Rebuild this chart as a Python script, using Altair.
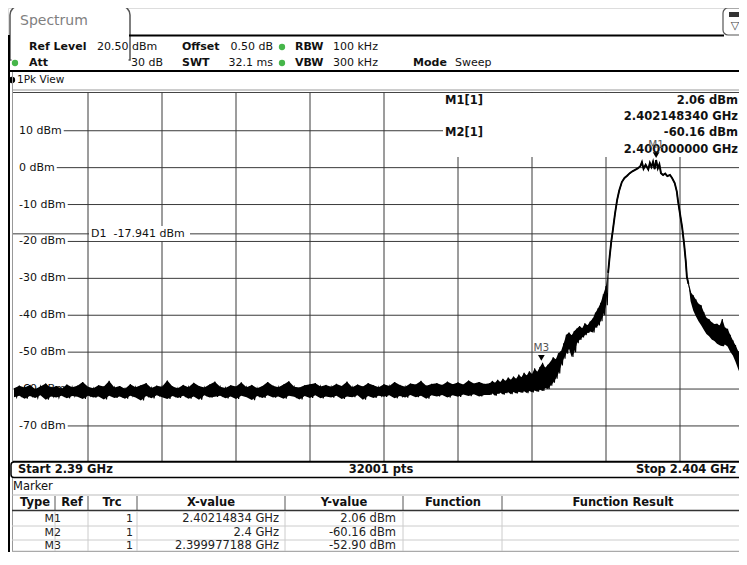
import altair as alt
import pandas as pd

# ---------------- chart values ----------------
F_START, F_STOP = 2390.0, 2404.0        # MHz (2.39 GHz .. 2.404 GHz)
LVL_TOP, LVL_BOTTOM = 20.5, -79.5       # dBm (ref level 20.5, 10 dB/div)

grid_levels = [10, 0, -10, -20, -30, -40, -50, -60, -70]
grid_freqs = [2391.4, 2392.8, 2394.2, 2395.6, 2397.0, 2398.4, 2399.8, 2401.2, 2402.6]
display_line = -17.941

# noise floor 2390.0 .. 2398.9 MHz, every 0.1 MHz: max / min of the trace
noise_upper = [-59.8, -59.1, -59.6, -58.9, -60.0, -59.3, -58.5, -59.7, -59.2, -59.9,
               -58.8, -59.5, -59.1, -58.1, -59.4, -59.8, -59.0, -59.3, -57.8, -59.6,
               -59.2, -59.9, -58.7, -59.5, -59.0, -58.4, -59.7, -59.1, -59.4, -57.7,
               -59.3, -59.8, -58.9, -59.5, -58.3, -59.2, -59.6, -58.8, -58.0, -59.4,
               -59.7, -59.0, -59.3, -58.2, -59.5, -58.9, -59.8, -59.2, -58.1, -59.1,
               -59.5, -58.8, -57.9, -59.4, -59.6, -59.0, -58.7, -58.4, -59.3, -58.9,
               -59.4, -58.6, -59.2, -58.0, -59.5, -58.8, -59.3, -58.4, -59.0, -59.5,
               -58.7, -59.2, -58.1, -58.9, -59.4, -58.5, -58.8, -57.8, -59.1, -58.6,
               -58.4, -58.9, -58.0, -58.7, -58.2, -58.8, -57.7, -58.5, -58.1, -58.6]
noise_lower = [-62.2, -61.8, -62.6, -61.9, -62.4, -61.7, -62.9, -62.0, -62.3, -61.8,
               -62.5, -61.9, -62.1, -62.7, -61.8, -62.3, -62.0, -62.8, -61.8, -62.4,
               -62.0, -62.6, -61.8, -62.3, -63.1, -61.9, -62.5, -61.7, -62.2, -62.7,
               -61.9, -62.4, -61.8, -62.6, -62.0, -62.9, -61.7, -62.3, -62.1, -61.8,
               -62.5, -62.0, -62.7, -61.8, -62.2, -63.0, -61.9, -62.4, -61.7, -62.3,
               -62.0, -62.6, -61.8, -62.1, -62.8, -61.9, -62.4, -61.7, -62.5, -62.0,
               -62.3, -61.8, -62.7, -62.0, -62.2, -61.7, -62.9, -61.9, -62.4, -61.8,
               -62.1, -61.7, -62.5, -61.9, -62.3, -61.6, -62.2, -61.8, -62.6, -61.7,
               -62.0, -61.6, -62.3, -61.7, -62.1, -61.5, -61.9, -61.4, -62.0, -61.6]

# lower skirt 2399.0 .. 2401.2 MHz, every 0.05 MHz
rise_upper = [-58.4, -57.8, -58.3, -57.5, -58.1, -57.2, -57.8, -56.9, -57.5, -56.6,
              -57.2, -56.1, -56.8, -55.6, -56.3, -55.2, -55.9, -54.4, -55.3, -54.0,
              -52.9, -54.2, -53.4, -52.6, -51.4, -51.9, -50.3, -49.7, -47.6, -45.3,
              -44.7, -45.4, -44.3, -43.6, -42.9, -43.5, -42.2, -42.7, -41.7, -40.9,
              -39.3, -38.1, -36.6, -34.3, -32.1]
rise_lower = [-61.6, -61.2, -61.8, -61.3, -61.0, -61.5, -61.1, -60.9, -61.4, -60.8,
              -61.2, -60.7, -61.0, -60.6, -61.1, -60.5, -60.9, -60.4, -60.7, -60.2,
              -60.5, -59.7, -60.0, -59.1, -58.3, -57.2, -55.8, -53.6, -51.8, -50.4,
              -49.1, -51.3, -50.0, -47.6, -46.7, -46.0, -45.4, -44.8, -44.4, -44.7,
              -43.4, -42.8, -41.6, -40.0, -37.3]

# main channel
sig_freq = [2401.24, 2401.27, 2401.30, 2401.33, 2401.37, 2401.41, 2401.45, 2401.50,
            2401.55, 2401.60, 2401.65, 2401.70, 2401.75, 2401.80, 2401.85, 2401.88,
            2401.91, 2401.95, 2402.00, 2402.03, 2402.06, 2402.09, 2402.12, 2402.148,
            2402.18, 2402.21, 2402.24, 2402.28, 2402.32, 2402.36, 2402.41, 2402.45,
            2402.50, 2402.54, 2402.56, 2402.60, 2402.64, 2402.68, 2402.71, 2402.73,
            2402.76]
sig_level = [-28.5, -24.0, -20.0, -16.9, -12.5, -8.8, -6.2, -3.9,
             -2.8, -2.2, -1.5, -1.0, -0.6, -0.2, 0.4, 1.5,
             -0.3, 0.8, -0.5, 1.3, 0.2, 1.6, -0.4, 2.06,
             -0.2, 0.9, -1.5, -2.0, -1.6, -2.3, -2.0, -2.8,
             -4.2, -6.5, -8.8, -12.5, -16.1, -21.0, -25.5, -29.6,
             -31.5]

# upper skirt 2402.8 .. 2404.0 MHz, every 0.05 MHz
tail_upper = [-33.8, -34.6, -35.7, -36.9, -37.3, -39.1, -40.7, -41.1, -41.9, -42.4,
              -42.3, -42.8, -41.0, -43.3, -43.7, -45.3, -46.8, -48.1, -49.7, -51.1,
              -52.9, -54.6, -56.3, -57.6, -58.2]
tail_lower = [-36.2, -38.7, -40.3, -41.6, -42.7, -43.9, -45.1, -45.7, -46.6, -47.0,
              -47.7, -48.1, -48.4, -47.9, -48.5, -49.9, -50.9, -52.6, -54.6, -56.4,
              -57.6, -59.5, -60.6, -61.3, -61.7]

marker_names = ["M1", "M2", "M3"]
marker_freq = [2402.14834, 2400.0, 2399.977188]
marker_level = [2.06, -60.16, -52.90]
marker_x_txt = ["2.40214834 GHz", "2.4 GHz", "2.399977188 GHz"]
marker_y_txt = ["2.06 dBm", "-60.16 dBm", "-52.90 dBm"]

# ---------------- build tables ----------------
def zigzag(freqs, up, lo):
    step = freqs[1] - freqs[0]
    pts = []
    for f, u, l in zip(freqs, up, lo):
        pts.append((f, u))
        pts.append((f + step / 2, l))
    return pts

noise_freq = [round(2390.0 + 0.1 * k, 3) for k in range(len(noise_upper))]
rise_freq = [round(2399.0 + 0.05 * k, 3) for k in range(len(rise_upper))]
tail_freq = [round(2402.8 + 0.05 * k, 3) for k in range(len(tail_upper))]
pts = (zigzag(noise_freq, noise_upper, noise_lower)
       + zigzag(rise_freq, rise_upper, rise_lower)
       + list(zip(sig_freq, sig_level))
       + zigzag(tail_freq, tail_upper, tail_lower))
trace = pd.DataFrame(pts, columns=["f", "v"])
trace["i"] = range(len(trace))
sig_df = pd.DataFrame({"f": sig_freq, "v": sig_level})

env = pd.DataFrame({
    "f": noise_freq + rise_freq + sig_freq + tail_freq,
    "hi": noise_upper + rise_upper + sig_level + tail_upper,
    "lo": noise_lower + rise_lower + sig_level + tail_lower,
})

# page offset: the chart starts 8 px into the page
OX, OY = 8, 8
def px(x):
    return x - OX
def py(y):
    return y - OY

CW = {"-": 0.361, " ": 0.318, "d": 0.635, "B": 0.686, "m": 0.974}
def label_end(s, size=11):
    return px(19 + size * sum(CW.get(c, 0.636) for c in s) + 2)

grid_df = pd.DataFrame({"level": grid_levels,
                        "label": [f"{v} dBm" for v in grid_levels]})
grid_df["x0"] = grid_df["label"].map(label_end)
vgrid_df = pd.DataFrame({"f": grid_freqs})
mk_df = pd.DataFrame({"name": marker_names, "f": marker_freq, "v": marker_level})
mk_shown = mk_df[mk_df["name"] != "M2"]

XS = alt.Scale(domain=[F_START, F_STOP], range=[px(14), px(754)], nice=False, zero=False)
YS = alt.Scale(domain=[LVL_BOTTOM, LVL_TOP], range=[py(461), py(92)], nice=False, zero=False)

FONT = "DejaVu Sans"
GRID = "#3a3a3a"
one = pd.DataFrame({"_": [0]})

def T(text, x, y, size=11, bold=False, align="left", color="#111"):
    return alt.Chart(one).mark_text(
        text=text, align=align, baseline="middle", fontSize=size, font=FONT,
        fontWeight="bold" if bold else "normal", color=color
    ).encode(x=alt.value(px(x)), y=alt.value(py(y)))

def HL(x1, x2, y, color="#000", w=1.0):
    return alt.Chart(one).mark_rule(color=color, strokeWidth=w).encode(
        x=alt.value(px(x1)), x2=alt.value(px(x2)), y=alt.value(py(y)))

def VL(x, y1, y2, color="#000", w=1.0):
    return alt.Chart(one).mark_rule(color=color, strokeWidth=w).encode(
        x=alt.value(px(x)), y=alt.value(py(y1)), y2=alt.value(py(y2)))

def R(x1, x2, y1, y2, fill="white", stroke=None, w=1.0, **kw):
    props = dict(fill=fill, **kw)
    if stroke:
        props.update(stroke=stroke, strokeWidth=w)
    return alt.Chart(one).mark_rect(**props).encode(
        x=alt.value(px(x1)), x2=alt.value(px(x2)), y=alt.value(py(y1)), y2=alt.value(py(y2)))

def DOT(x, y, color, size=40):
    return alt.Chart(one).mark_point(shape="circle", filled=True, color=color,
                                     size=size, opacity=1).encode(
        x=alt.value(px(x)), y=alt.value(py(y)))

GREEN = "#46b64a"
RIGHT = 738   # right edge of the visible picture
layers = []

# ----- top bar -----
layers += [
    R(10, 130, 6, 60, fill="white", stroke="#555", w=1.5,
      cornerRadiusTopLeft=9, cornerRadiusTopRight=9),
    R(11.5, 128.5, 36, 70, fill="white"),
    HL(129, 724, 35.5, "#000", 2),
    T("Spectrum", 20, 21, size=14, color="#808080"),
    R(723, 750, 8, 35, fill="white", stroke="#555", w=1.2, cornerRadius=5),
    R(729, 742, 12, 17, fill="#333"),
    T("▽", 735, 26, size=11, align="center", color="#444"),
    T("Ref Level", 29, 47, bold=True), T("20.50 dBm", 97, 47),
    T("Offset", 182, 47, bold=True), T("0.50 dB", 273, 47, align="right"),
    DOT(282, 47, GREEN), T("RBW", 295, 47, bold=True), T("100 kHz", 333, 47),
    DOT(15, 63, GREEN), T("Att", 29, 63, bold=True), T("30 dB", 163, 63, align="right"),
    T("SWT", 182, 63, bold=True), T("32.1 ms", 273, 63, align="right"),
    DOT(282, 63, GREEN), T("VBW", 295, 63, bold=True), T("300 kHz", 333, 63),
    T("Mode", 413, 63, bold=True), T("Sweep", 455, 63),
    HL(10, 747, 71, "#000", 2),
    DOT(12, 80, "#000", 40), T("1Pk View", 17, 80, size=10.5),
    VL(9, 35, 565, "#000", 2), VL(12.5, 72, 565, "#999", 1),
    HL(13, 754, 90, "#999", 1), HL(13, 754, 92.5, "#444", 1),
]

# ----- grid -----
layers += [
    alt.Chart(vgrid_df).mark_rule(color=GRID, strokeWidth=1).encode(
        x=alt.X("f:Q", scale=XS, axis=None), y=alt.value(py(92)), y2=alt.value(py(461))),
    alt.Chart(grid_df).mark_rule(color=GRID, strokeWidth=1).encode(
        x=alt.X("x0:Q", scale=None, axis=None), x2=alt.value(px(754)),
        y=alt.Y("level:Q", scale=YS, axis=None)),
    alt.Chart(pd.DataFrame({"v": [display_line]})).mark_rule(color=GRID, strokeWidth=1).encode(
        x=alt.value(px(13)), x2=alt.value(px(754)), y=alt.Y("v:Q", scale=YS, axis=None)),
    R(89, 190, 226, 241, fill="white"),
    T("D1\u00a0 -17.941 dBm", 91, 234),
    # marker info field
    R(443, 754, 93, 157, fill="white"),
    T("M1[1]", 445, 101, size=11.5, bold=True),
    T("2.06 dBm", RIGHT, 101, size=11.5, bold=True, align="right"),
    T("2.402148340 GHz", RIGHT, 117, size=11.5, bold=True, align="right"),
    T("M2[1]", 445, 133, size=11.5, bold=True),
    T("-60.16 dBm", RIGHT, 133, size=11.5, bold=True, align="right"),
    T("2.400000000 GHz", RIGHT, 150, size=11.5, bold=True, align="right"),
    alt.Chart(grid_df).mark_text(align="left", baseline="middle", fontSize=11,
                                 font=FONT, color="#111").encode(
        x=alt.value(px(19)), y=alt.Y("level:Q", scale=YS, axis=None), text="label:N"),
]

# ----- trace -----
layers += [
    alt.Chart(env).mark_area(color="#000", opacity=1, clip=True).encode(
        x=alt.X("f:Q", scale=XS, axis=None),
        y=alt.Y("hi:Q", scale=YS, axis=None), y2="lo:Q"),
    alt.Chart(trace).mark_line(color="#000", strokeWidth=1.1, clip=True).encode(
        x=alt.X("f:Q", scale=XS, axis=None), y=alt.Y("v:Q", scale=YS, axis=None),
        order=alt.Order("i:Q")),
    alt.Chart(sig_df).mark_line(color="#000", strokeWidth=1.9, clip=True).encode(
        x=alt.X("f:Q", scale=XS, axis=None), y=alt.Y("v:Q", scale=YS, axis=None)),
    alt.Chart(mk_shown).mark_point(shape="triangle-down", filled=True, color="#000",
                                   size=45, opacity=1, yOffset=-5).encode(
        x=alt.X("f:Q", scale=XS, axis=None), y=alt.Y("v:Q", scale=YS, axis=None)),
    alt.Chart(mk_shown).mark_text(fontSize=10.5, font=FONT, color="#555",
                                  baseline="middle", yOffset=-15).encode(
        x=alt.X("f:Q", scale=XS, axis=None), y=alt.Y("v:Q", scale=YS, axis=None),
        text="name:N"),
]

# ----- bottom bar -----
layers += [
    HL(13, 754, 461.5, "#000", 1.5),
    R(11, 754, 462, 477.5, fill="white", stroke="#000", w=1.5, cornerRadius=3),
    T("Start 2.39 GHz", 18, 470, size=11.5, bold=True),
    T("32001 pts", 381, 470, size=11.5, bold=True, align="center"),
    T("Stop 2.404 GHz", RIGHT - 2, 470, size=11.5, bold=True, align="right"),
]

# ----- marker table -----
cols = [55, 88, 137, 285, 403, 502]
layers += [T("Marker", 13, 487, size=11.5)]
layers += [HL(12, 754, 495, "#bbb", 1), HL(12, 754, 510.5, "#333", 1.5),
           HL(12, 754, 526, "#ccc", 1), HL(12, 754, 540, "#ccc", 1),
           HL(12, 754, 551.5, "#aaa", 1.5)]
for c in cols:
    layers += [VL(c, 496, 510, "#555", 1), VL(c, 511.5, 551, "#ccc", 1)]
for txt, cx in [("Type", 35), ("Ref", 72), ("Trc", 112), ("X-value", 211),
                ("Y-value", 344), ("Function", 453), ("Function Result", 623)]:
    layers.append(T(txt, cx, 503, size=11.5, bold=True, align="center"))
for k, yy in enumerate([519, 533, 546]):
    layers += [
        T(marker_names[k], 61, yy, size=11, align="right", color="#222"),
        T("1", 133, yy, size=11, align="right", color="#222"),
        T(marker_x_txt[k], 279, yy, size=11.5, align="right", color="#222"),
        T(marker_y_txt[k], 396, yy, size=11.5, align="right", color="#222"),
    ]

chart = alt.layer(*layers).properties(
    width=731, height=544,
    autosize=alt.AutoSizeParams(type="none"),
    padding=0,
).configure_view(stroke=None).configure(background="white")

chart.save("out.html", embed_options={"renderer": "svg", "actions": False})
